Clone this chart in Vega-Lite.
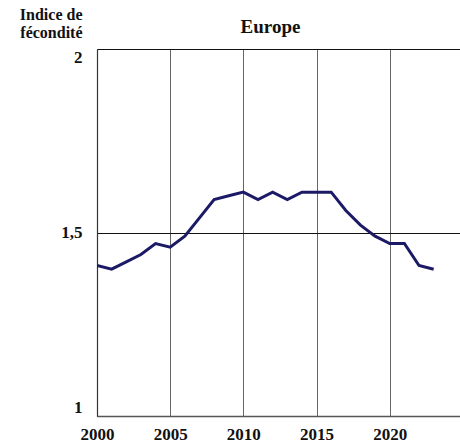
{
  "$schema": "https://vega.github.io/schema/vega-lite/v6.json",
  "width": 363,
  "height": 367,
  "autosize": {"type": "none"},
  "padding": {"left": 97, "top": 49, "right": 0, "bottom": 30},
  "background": "white",
  "config": {
    "view": {"stroke": null},
    "font": "Liberation Serif"
  },
  "title": {
    "text": "Europe",
    "font": "Liberation Serif",
    "fontSize": 19,
    "fontWeight": "bold",
    "color": "#111",
    "anchor": "middle",
    "frame": "group",
    "dx": -8,
    "dy": 43,
    "offset": 12
  },
  "data": {
    "values": [
      {"annee": 2000, "indice": 1.41},
      {"annee": 2001, "indice": 1.40},
      {"annee": 2002, "indice": 1.42},
      {"annee": 2003, "indice": 1.44},
      {"annee": 2004, "indice": 1.47},
      {"annee": 2005, "indice": 1.46},
      {"annee": 2006, "indice": 1.49},
      {"annee": 2007, "indice": 1.54},
      {"annee": 2008, "indice": 1.59},
      {"annee": 2009, "indice": 1.60},
      {"annee": 2010, "indice": 1.61},
      {"annee": 2011, "indice": 1.59},
      {"annee": 2012, "indice": 1.61},
      {"annee": 2013, "indice": 1.59},
      {"annee": 2014, "indice": 1.61},
      {"annee": 2015, "indice": 1.61},
      {"annee": 2016, "indice": 1.61},
      {"annee": 2017, "indice": 1.56},
      {"annee": 2018, "indice": 1.52},
      {"annee": 2019, "indice": 1.49},
      {"annee": 2020, "indice": 1.47},
      {"annee": 2021, "indice": 1.47},
      {"annee": 2022, "indice": 1.41},
      {"annee": 2023, "indice": 1.40}
    ]
  },
  "mark": {"type": "line", "color": "#1c1a66", "strokeWidth": 3, "strokeJoin": "miter", "clip": true},
  "encoding": {
    "x": {
      "field": "annee",
      "type": "quantitative",
      "scale": {"domain": [2000, 2024.8], "nice": false, "zero": false},
      "axis": {
        "values": [2000, 2005, 2010, 2015, 2020],
        "format": "d",
        "title": null,
        "grid": true,
        "gridColor": "#666",
        "gridWidth": 1,
        "gridOpacity": 1,
        "ticks": false,
        "domainColor": "#555",
        "domainWidth": 1.5,
        "labelFont": "Liberation Serif",
        "labelFontSize": 17,
        "labelFontWeight": "bold",
        "labelColor": "#111",
        "labelPadding": 10,
        "labelFlush": false
      }
    },
    "y": {
      "field": "indice",
      "type": "quantitative",
      "scale": {"domain": [1, 2], "nice": false, "zero": false},
      "axis": {
        "values": [1, 1.5, 2],
        "labelExpr": "replace(format(datum.value, '~g'), '.', ',')",
        "grid": true,
        "gridColor": "#111",
        "gridWidth": 1.2,
        "gridOpacity": 1,
        "ticks": false,
        "domainColor": "#333",
        "domainWidth": 1.2,
        "labelFont": "Liberation Serif",
        "labelFontSize": 17,
        "labelFontWeight": "bold",
        "labelColor": "#111",
        "labelPadding": 15,
        "labelFlush": true,
        "title": ["Indice de", "fécondité"],
        "titleFont": "Liberation Serif",
        "titleFontSize": 16,
        "titleFontWeight": "bold",
        "titleColor": "#111",
        "titleAngle": 0,
        "titleAlign": "right",
        "titleBaseline": "alphabetic",
        "titleX": -15,
        "titleY": -30,
        "titleLineHeight": 18
      }
    }
  }
}
